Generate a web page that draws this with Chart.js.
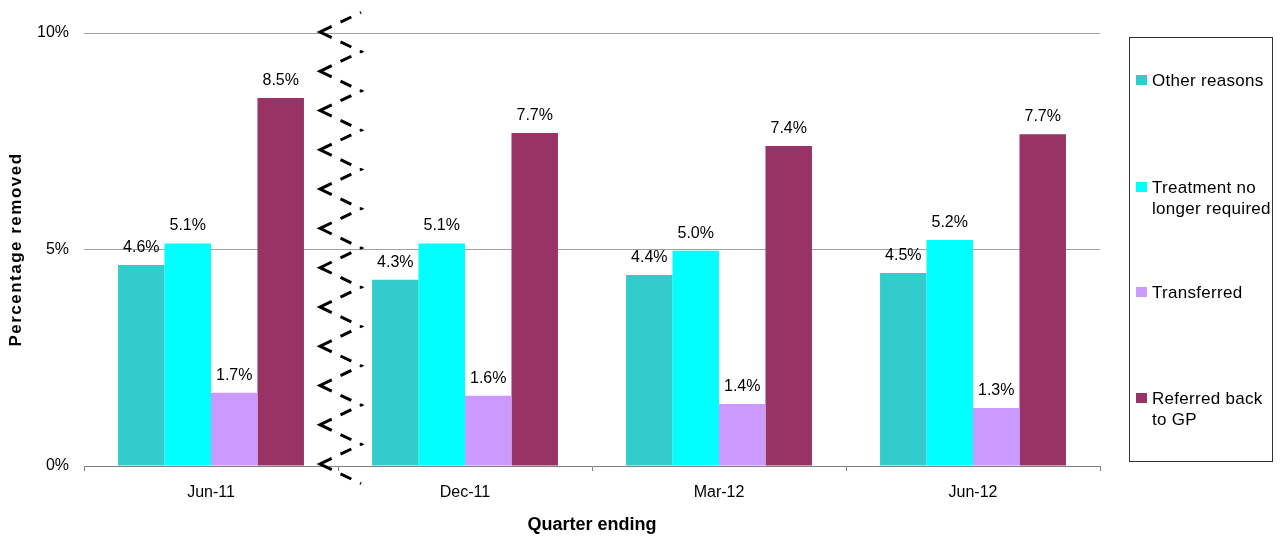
<!DOCTYPE html>
<html>
<head>
<meta charset="utf-8">
<script src="https://cdn.jsdelivr.net/npm/chart.js@4.4.0/dist/chart.umd.min.js"></script>
<style>
  html, body { margin: 0; padding: 0; background: #fff; }
  #wrap { position: relative; width: 1281px; height: 538px; overflow: hidden; font-family: "Liberation Sans", Arial, sans-serif; }
  canvas { position: absolute; left: 0; top: 0; }
  #legend { position: absolute; left: 1129px; top: 37px; width: 144px; height: 425px; border: 1px solid #333; box-sizing: border-box; }
  .item { position: absolute; left: 22px; font-size: 17px; line-height: 21px; letter-spacing: 0.3px; color: #000; white-space: nowrap; }
  .mk { position: absolute; left: 6px; width: 11px; height: 10px; }
</style>
</head>
<body>
<div id="wrap">
  <canvas id="c" width="1281" height="538"></canvas>
  <div id="legend"></div>
</div>
<script>
const categories = ["Jun-11", "Dec-11", "Mar-12", "Jun-12"];
const otherReasons = [4.64, 4.3, 4.41, 4.46];
const treatmentNoLongerRequired = [5.14, 5.14, 4.97, 5.22];
const transferred = [1.69, 1.62, 1.43, 1.34];
const referredBackToGP = [8.5, 7.69, 7.39, 7.66];
const seriesNames = ["Other reasons", "Treatment no\nlonger required", "Transferred", "Referred back\nto GP"];
const seriesColors = ["#33CCCC", "#00FFFF", "#CC99FF", "#993366"];
const yTickValues = [0, 5, 10];
const yTickLabels = ["0%", "5%", "10%"];
const xTitle = "Quarter ending";
const yTitle = "Percentage removed";

const seriesData = [otherReasons, treatmentNoLongerRequired, transferred, referredBackToGP];
const FONT = "'Liberation Sans', Arial, sans-serif";

const valueLabels = {
  id: 'valueLabels',
  afterDatasetsDraw(chart) {
    const ctx = chart.ctx;
    ctx.save();
    ctx.font = "16px " + FONT;
    ctx.fillStyle = "#000";
    ctx.textAlign = "center";
    ctx.textBaseline = "alphabetic";
    chart.data.datasets.forEach((ds, i) => {
      const meta = chart.getDatasetMeta(i);
      meta.data.forEach((bar, j) => {
        ctx.fillText(ds.data[j].toFixed(1) + "%", bar.x, bar.y - 13);
      });
    });
    ctx.restore();
  }
};

const yTitlePlugin = {
  id: 'yTitlePlugin',
  afterDraw(chart) {
    const ca = chart.chartArea;
    const ctx = chart.ctx;
    ctx.save();
    ctx.translate(16, (ca.top + ca.bottom) / 2);
    ctx.rotate(-Math.PI / 2);
    ctx.font = "bold 17px " + FONT;
    if ('letterSpacing' in ctx) ctx.letterSpacing = "1.5px";
    ctx.fillStyle = "#000";
    ctx.textAlign = "center";
    ctx.textBaseline = "middle";
    ctx.fillText(yTitle, 0, 0);
    ctx.restore();
  }
};

const axisBreak = {
  id: 'axisBreak',
  afterDraw(chart) {
    const xs = chart.scales.x;
    const ca = chart.chartArea;
    const bx = (xs.getPixelForValue(0) + xs.getPixelForValue(1)) / 2;
    const tipX = bx - 18, apexX = bx + 23;
    const t0 = ca.top - 1, t1 = ca.bottom - 2;
    const n = 11;
    const step = (t1 - t0) / n;
    const half = step / 2;
    const ctx = chart.ctx;
    ctx.save();
    ctx.strokeStyle = "#000";
    ctx.lineWidth = 3;
    ctx.lineJoin = "miter";
    ctx.lineCap = "butt";
    const seg = Math.hypot(apexX - tipX, half);
    const g = (2 * seg - 52) / 4;
    ctx.setLineDash([2, g, 12, g, 26, g, 12, g]);
    ctx.lineDashOffset = 1;
    ctx.beginPath();
    ctx.moveTo(apexX, t0 - half);
    for (let k = 0; k <= n; k++) {
      ctx.lineTo(tipX, t0 + k * step);
      ctx.lineTo(apexX, t0 + k * step + half);
    }
    ctx.stroke();
    ctx.restore();
  }
};

new Chart(document.getElementById('c'), {
  type: 'bar',
  data: {
    labels: categories,
    datasets: seriesData.map((d, i) => ({
      label: seriesNames[i],
      data: d,
      backgroundColor: seriesColors[i],
      borderWidth: 0,
      categoryPercentage: 0.732,
      barPercentage: 1.0
    }))
  },
  options: {
    responsive: false,
    animation: false,
    devicePixelRatio: 1,
    layout: { padding: { top: 33, right: 181, bottom: 0, left: 0 } },
    plugins: { legend: { display: false }, tooltip: { enabled: false } },
    scales: {
      x: {
        offset: true,
        grid: { offset: true, drawOnChartArea: false, drawTicks: true, tickLength: 5, color: "#808080", lineWidth: 1 },
        border: { display: true, color: "#808080", width: 1 },
        ticks: { color: "#000", font: { family: FONT, size: 16 }, padding: 12, maxRotation: 0 },
        title: { display: true, text: xTitle, color: "#000", font: { family: FONT, size: 18, weight: 'bold' }, padding: { top: 0, bottom: 2 } },
        afterFit(s) { s.height = 72; }
      },
      y: {
        min: 0, max: 10,
        afterBuildTicks(s) { s.ticks = yTickValues.map(v => ({ value: v })); },
        grid: { drawTicks: false, color: (c) => c.tick && c.tick.value === 0 ? 'rgba(0,0,0,0)' : "#a0a0a0", lineWidth: 1 },
        border: { display: false },
        ticks: { color: "#000", font: { family: FONT, size: 16 }, padding: 15,
          callback: (v) => yTickLabels[yTickValues.indexOf(v)] },
        title: { display: false },
        afterFit(s) { s.width = 84; }
      }
    }
  },
  plugins: [valueLabels, yTitlePlugin, axisBreak]
});

// HTML legend
const legendCenters = [80, 187, 292, 398];
const legend = document.getElementById('legend');
seriesNames.forEach((name, i) => {
  const cy = legendCenters[i] - 38; // relative to legend box (top 37 + border 1)
  const mk = document.createElement('div');
  mk.className = 'mk';
  mk.style.background = seriesColors[i];
  mk.style.top = (cy - 5) + 'px';
  legend.appendChild(mk);
  const it = document.createElement('div');
  it.className = 'item';
  it.style.top = (cy - 10.5) + 'px';
  it.innerHTML = name.split('\n').join('<br>');
  legend.appendChild(it);
});
</script>
</body>
</html>
